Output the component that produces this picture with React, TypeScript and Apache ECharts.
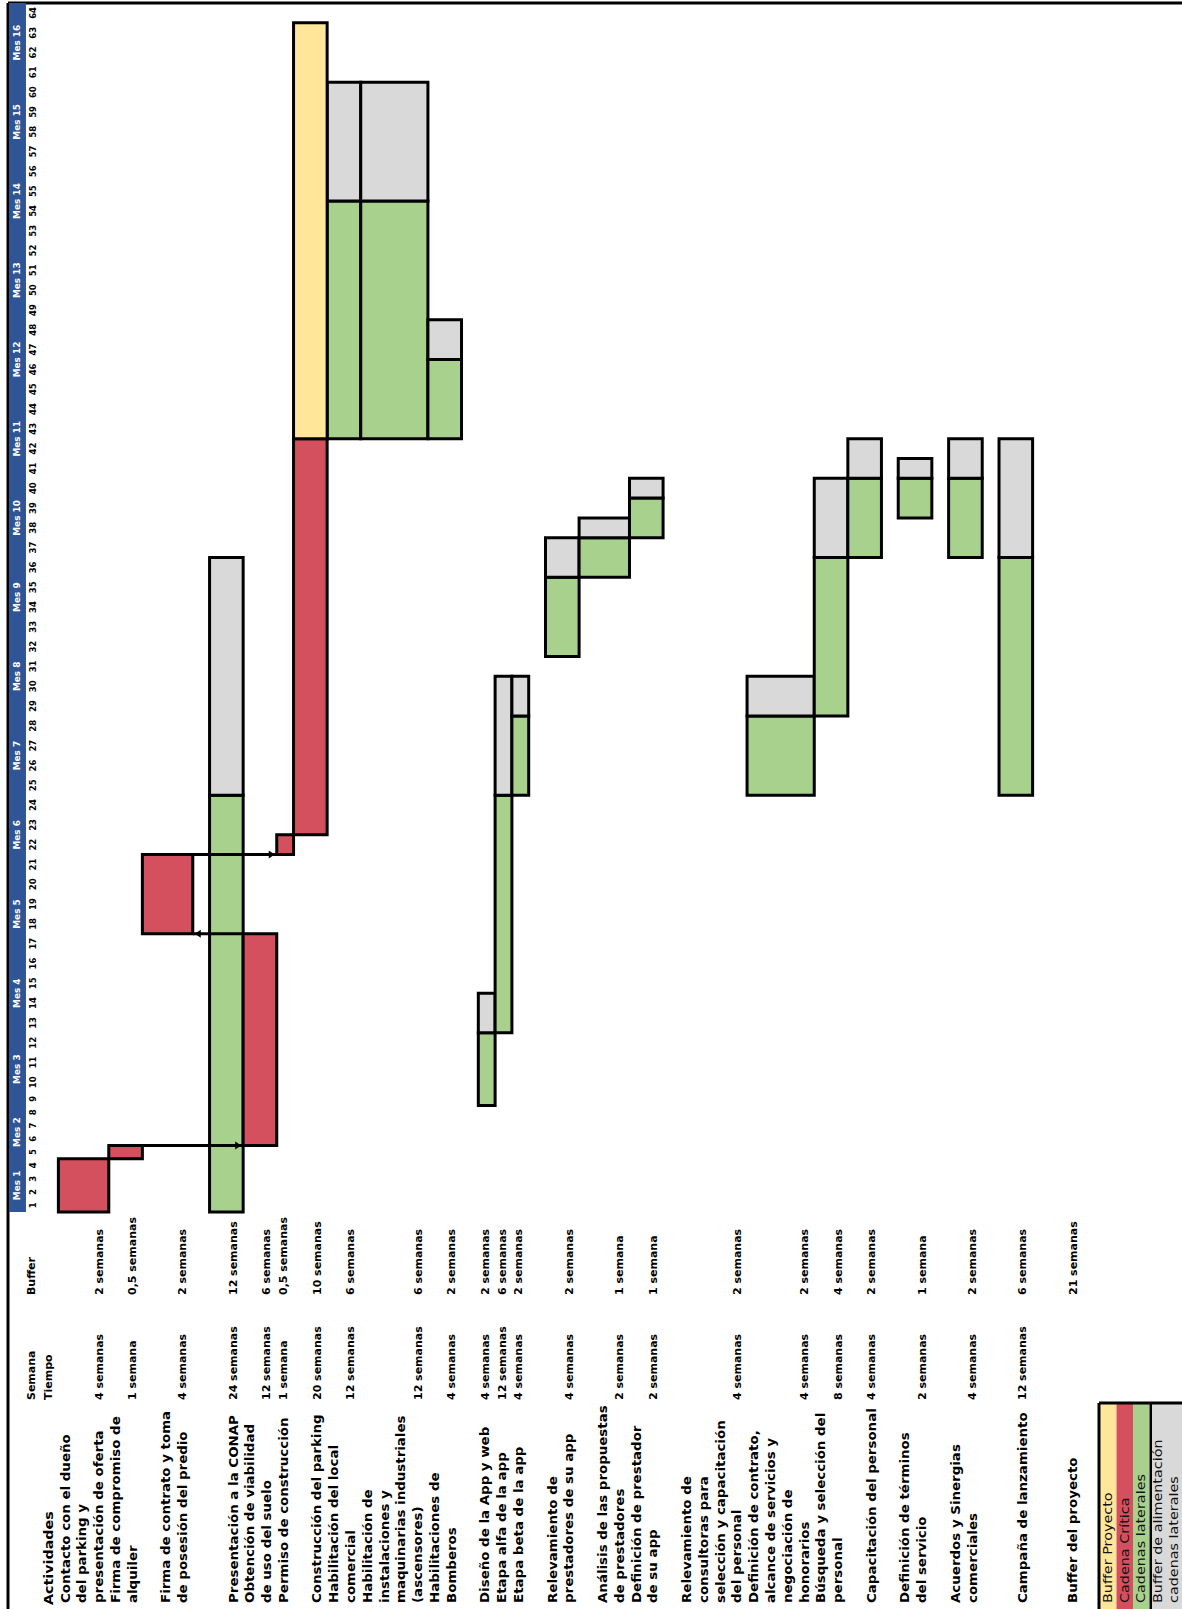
import React, { useEffect, useRef } from "react";
import * as echarts from "echarts";

// ---------- data ----------
const activities: string[] = [
  "Contacto con el dueño\ndel parking y\npresentación de oferta",
  "Firma de compromiso de\nalquiler",
  "Firma de contrato y toma\nde posesión del predio",
  "Presentación a la CONAP",
  "Obtención de viabilidad\nde uso del suelo",
  "Permiso de construcción",
  "Construcción del parking",
  "Habilitación del local\ncomercial",
  "Habilitación de\ninstalaciones y\nmaquinarias industriales\n(ascensores)",
  "Habilitaciones de\nBomberos",
  "Diseño de la App y web",
  "Etapa alfa de la app",
  "Etapa beta de la app",
  "Relevamiento de\nprestadores de su app",
  "Análisis de las propuestas\nde prestadores",
  "Definición de prestador\nde su app",
  "Relevamiento de\nconsultoras para\nselección y capacitación\ndel personal",
  "Definición de contrato,\nalcance de servicios y\nnegociación de\nhonorarios",
  "Búsqueda y selección del\npersonal",
  "Capacitación del personal",
  "Definición de términos\ndel servicio",
  "Acuerdos y Sinergias\ncomerciales",
  "Campaña de lanzamiento",
  "Buffer del proyecto",
];

// duration of each activity, in weeks
const durationWeeks: (number | null)[] = [4, 1, 4, 24, 12, 1, 20, 12, 12, 4, 4, 12, 4, 4, 2, 2, 4, 4, 8, 4, 2, 4, 12, null];
// buffer of each activity, in weeks
const bufferWeeks: number[] = [2, 0.5, 2, 12, 6, 0.5, 10, 6, 6, 2, 2, 6, 2, 2, 1, 1, 2, 2, 4, 2, 1, 2, 6, 21];
// week in which each activity starts (weeks elapsed since project start)
const startWeek: (number | null)[] = [0, 4, 17, 0, 5, 21, 22, 42, 42, 42, 8, 12, 24, 31, 35, 37, null, 24, 28, 36, 38, 36, 24, null];
// which chain each activity belongs to
const chainType: string[] = [
  "critica", "critica", "critica", "lateral", "critica", "critica", "critica",
  "lateral", "lateral", "lateral", "lateral", "lateral", "lateral", "lateral",
  "lateral", "lateral", "lateral", "lateral", "lateral", "lateral", "lateral",
  "lateral", "lateral", "proyecto",
];
// finish-to-start links along the critical chain [from, to]
const dependencies: [number, number][] = [[1, 4], [4, 2], [2, 5]];

const months: string[] = [
  "Mes 1", "Mes 2", "Mes 3", "Mes 4", "Mes 5", "Mes 6", "Mes 7", "Mes 8",
  "Mes 9", "Mes 10", "Mes 11", "Mes 12", "Mes 13", "Mes 14", "Mes 15", "Mes 16",
];
const weekTicks: number[] = [
  1, 2, 3, 4, 5, 6, 7, 8, 9, 10, 11, 12, 13, 14, 15, 16,
  17, 18, 19, 20, 21, 22, 23, 24, 25, 26, 27, 28, 29, 30, 31, 32,
  33, 34, 35, 36, 37, 38, 39, 40, 41, 42, 43, 44, 45, 46, 47, 48,
  49, 50, 51, 52, 53, 54, 55, 56, 57, 58, 59, 60, 61, 62, 63, 64,
];

const headerActivity = "Actividades";
const headerTime = ["Semana", "Tiempo"];
const headerBuffer = "Buffer";

const legendLabels: string[] = ["Buffer Proyecto", "Cadena Crítica", "Cadenas laterales", "Buffer de alimentación\ncadenas laterales"];
const legendKinds: string[] = ["proyecto", "critica", "lateral", "alimentacion"];

// ---------- layout ----------
// row thickness (in text lines) of every activity and blank lines placed before it
const rowLines = [3, 2, 3, 2, 2, 1, 2, 2, 4, 2, 1, 1, 1, 2, 3, 2, 4, 4, 2, 2, 2, 2, 2, 2];
const gapBefore = [0, 0, 0, 1, 0, 0, 0, 0, 0, 0, 1, 0, 0, 1, 0, 0, 1, 0, 0, 0, 1, 1, 1, 1];
const HEADER_LINES = 3; // month band, week numbers, header line
const NARROW_WEEK = 0.672; // columns holding one-digit week numbers are narrower

const COLORS: Record<string, string> = {
  critica: "#D5505E",
  lateral: "#A9D18E",
  alimentacion: "#D9D9D9",
  proyecto: "#FFE699",
};
const BAND_BLUE = "#2F5597";
const FONT = "DejaVu Sans";

const PAGE_W = 1182;
const PAGE_H = 1609;
const GRID = { left: 8, right: 99, top: 3, bottom: 397 };
const LABEL_BASE_Y = 1603;
const TIME_BASE_Y = 1400;
const BUFFER_BASE_Y = 1295;

// ---------- derived ----------
const rowStart: number[] = [];
const rowEnd: number[] = [];
{
  let cursor = 0;
  activities.forEach((_, i) => {
    cursor += gapBefore[i];
    rowStart[i] = cursor;
    cursor += rowLines[i];
    rowEnd[i] = cursor;
  });
}
const X_MIN = -HEADER_LINES;
const X_MAX = rowEnd[rowEnd.length - 1];

const weekWidth = (label: number) => (String(label).length === 1 ? NARROW_WEEK : 1);
function timePos(weeks: number): number {
  let p = 0;
  const whole = Math.floor(weeks);
  for (let k = 0; k < whole && k < weekTicks.length; k++) p += weekWidth(weekTicks[k]);
  const frac = weeks - whole;
  if (frac > 0 && whole < weekTicks.length) p += frac * weekWidth(weekTicks[whole]);
  return p;
}
const TIME_MAX = timePos(weekTicks.length);

const fmtWeeks = (n: number | null) =>
  n == null ? "" : n === 1 ? "1 semana" : `${String(n).replace(".", ",")} semanas`;

type Bar = { value: number[]; kind: string };
const bars: Bar[] = [];
activities.forEach((_, i) => {
  const s = startWeek[i];
  const d = durationWeeks[i];
  if (s == null || d == null) return;
  if (chainType[i] === "critica") {
    bars.push({ value: [rowStart[i], rowEnd[i], s, s + d], kind: "critica" });
  } else if (chainType[i] === "lateral") {
    bars.push({ value: [rowStart[i], rowEnd[i], s, s + d], kind: "lateral" });
    bars.push({ value: [rowStart[i], rowEnd[i], s + d, s + d + bufferWeeks[i]], kind: "alimentacion" });
  }
});
// the project buffer follows the last task of the critical chain, in its row
{
  let last = -1;
  let lastEnd = -Infinity;
  activities.forEach((_, i) => {
    if (chainType[i] !== "critica") return;
    const e = (startWeek[i] as number) + (durationWeeks[i] as number);
    if (e > lastEnd) { lastEnd = e; last = i; }
  });
  const pb = chainType.indexOf("proyecto");
  bars.push({ value: [rowStart[last], rowEnd[last], lastEnd, lastEnd + bufferWeeks[pb]], kind: "proyecto" });
}

function vText(x: number, y: number, text: string, size: number, opts: any = {}) {
  return {
    type: "text",
    x,
    y,
    rotation: Math.PI / 2,
    scaleX: opts.stretch ?? 1.1,
    style: {
      text,
      fill: opts.fill ?? "#000",
      fontFamily: FONT,
      fontSize: size,
      fontWeight: opts.weight ?? "bold",
      align: opts.align ?? "left",
      verticalAlign: "middle",
    },
  };
}

function buildOption(): any {
  const LINE_OFFSET = 0.6;
  const LABEL_STRETCH = 1.03;

  const timeAxisSeries = {
    type: "custom",
    silent: true,
    clip: false,
    z: 1,
    data: months.map((_, i) => [i, 0]),
    renderItem: (params: any, api: any) => {
      const m = params.dataIndex;
      const children: any[] = [];
      const bx0 = api.coord([X_MIN + 0.06, 0])[0];
      const bx1 = api.coord([X_MIN + 1.07, 0])[0];
      if (m === 0) {
        const top = api.coord([0, TIME_MAX])[1];
        const bottom = api.coord([0, 0])[1];
        children.push({ type: "rect", shape: { x: bx0, y: top, width: bx1 - bx0, height: bottom - top }, style: { fill: BAND_BLUE } });
      }
      const w0 = m * 4;
      const yA = api.coord([0, timePos(w0)])[1];
      const yB = api.coord([0, timePos(w0 + 4)])[1];
      children.push(vText((bx0 + bx1) / 2, (yA + yB) / 2, months[m], 8.5, { fill: "#fff", align: "center", stretch: 1.05 }));
      const wx = api.coord([X_MIN + 1.5, 0])[0];
      for (let k = 0; k < 4; k++) {
        const w = w0 + k;
        const c = api.coord([0, timePos(w + 0.5)])[1];
        children.push(vText(wx, c, String(weekTicks[w]), 8.5, { align: "center", stretch: 1.0 }));
      }
      return { type: "group", children };
    },
  };

  const barSeries = {
    type: "custom",
    silent: true,
    clip: false,
    z: 2,
    data: bars.map((b) => ({ value: b.value })),
    renderItem: (params: any, api: any) => {
      const b = bars[params.dataIndex];
      const p0 = api.coord([api.value(0), timePos(api.value(2))]);
      const p1 = api.coord([api.value(1), timePos(api.value(3))]);
      return {
        type: "rect",
        shape: { x: p0[0], y: p1[1], width: p1[0] - p0[0], height: p0[1] - p1[1] },
        style: { fill: COLORS[b.kind], stroke: "#000", lineWidth: 3 },
      };
    },
  };

  const linkSeries = {
    type: "custom",
    silent: true,
    clip: false,
    z: 3,
    data: dependencies.map((_, i) => [i, 0]),
    renderItem: (params: any, api: any) => {
      const [a, b] = dependencies[params.dataIndex];
      const week = (startWeek[a] as number) + (durationWeeks[a] as number);
      const forward = rowStart[b] >= rowEnd[a];
      const ua = forward ? rowEnd[a] : rowStart[a];
      const ub = forward ? rowStart[b] : rowEnd[b];
      const pA = api.coord([ua, timePos(week)]);
      const pB = api.coord([ub, timePos(week)]);
      const dir = forward ? 1 : -1;
      const tip = pB[0] - dir * 2;
      return {
        type: "group",
        children: [
          { type: "line", shape: { x1: pA[0], y1: pA[1], x2: pB[0], y2: pB[1] }, style: { stroke: "#000", lineWidth: 3 } },
          {
            type: "polygon",
            shape: { points: [[tip, pB[1]], [tip - dir * 6, pB[1] - 4], [tip - dir * 6, pB[1] + 4]] },
            style: { fill: "#000" },
          },
        ],
      };
    },
  };

  const tableSeries = {
    type: "custom",
    silent: true,
    clip: false,
    z: 4,
    data: [...activities.map((_, i) => [i, 0]), [activities.length, 0]],
    renderItem: (params: any, api: any) => {
      const i = params.dataIndex;
      const children: any[] = [];
      const xAt = (u: number) => api.coord([u, 0])[0];
      if (i === activities.length) {
        children.push(vText(xAt(-LINE_OFFSET), LABEL_BASE_Y + 2, headerActivity, 13, { stretch: 1.1 }));
        children.push(vText(xAt(-1 - LINE_OFFSET), TIME_BASE_Y, headerTime[0], 10));
        children.push(vText(xAt(-LINE_OFFSET), TIME_BASE_Y, headerTime[1], 10));
        children.push(vText(xAt(-1 - LINE_OFFSET), BUFFER_BASE_Y, headerBuffer, 10));
        return { type: "group", children };
      }
      const lines = activities[i].split("\n");
      lines.forEach((ln, k) => {
        const u = rowEnd[i] - LINE_OFFSET - (lines.length - 1 - k);
        children.push(vText(xAt(u), LABEL_BASE_Y, ln, 13, { stretch: LABEL_STRETCH }));
      });
      const uLast = rowEnd[i] - LINE_OFFSET;
      const t = fmtWeeks(durationWeeks[i]);
      if (t) children.push(vText(xAt(uLast), TIME_BASE_Y, t, 10));
      children.push(vText(xAt(uLast), BUFFER_BASE_Y, fmtWeeks(bufferWeeks[i]), 10));
      return { type: "group", children };
    },
  };

  // frame lines and legend block
  const graphic: any[] = [
    { type: "line", shape: { x1: GRID.left, y1: GRID.top, x2: PAGE_W, y2: GRID.top }, style: { stroke: "#000", lineWidth: 3 }, silent: true },
    { type: "line", shape: { x1: GRID.left, y1: GRID.top, x2: GRID.left, y2: PAGE_H }, style: { stroke: "#000", lineWidth: 3 }, silent: true },
  ];
  const LEG_X = 1100;
  const LEG_Y = 1404;
  const LINE_W = 16.5;
  let lx = LEG_X;
  legendLabels.forEach((label, i) => {
    const lines = label.split("\n");
    const w = lines.length * LINE_W;
    const lastCell = i === legendLabels.length - 1;
    if (lastCell) {
      graphic.push({ type: "rect", shape: { x: lx, y: LEG_Y, width: 2.5, height: PAGE_H - LEG_Y }, style: { fill: "#000" }, silent: true });
      lx += 2.5;
    }
    graphic.push({ type: "rect", shape: { x: lx, y: LEG_Y, width: lastCell ? PAGE_W - lx : w, height: PAGE_H - LEG_Y }, style: { fill: COLORS[legendKinds[i]] }, silent: true });
    lines.forEach((ln, k) => {
      graphic.push({
        type: "text",
        x: lx + LINE_W * (k + (lastCell ? 0.35 : 0.5)),
        y: LABEL_BASE_Y,
        rotation: Math.PI / 2,
        scaleX: 1.25,
        silent: true,
        style: { text: ln, fill: "#111", fontFamily: FONT, fontSize: 11.5, fontWeight: "normal", align: "left", verticalAlign: "middle" },
      });
    });
    lx += w;
  });
  graphic.push({ type: "line", shape: { x1: LEG_X - 1, y1: LEG_Y - 1, x2: PAGE_W, y2: LEG_Y - 1 }, style: { stroke: "#000", lineWidth: 3 }, silent: true });
  graphic.push({ type: "line", shape: { x1: LEG_X - 1, y1: LEG_Y - 1, x2: LEG_X - 1, y2: PAGE_H }, style: { stroke: "#000", lineWidth: 3 }, silent: true });

  return {
    animation: false,
    backgroundColor: "#fff",
    grid: { ...GRID, containLabel: false },
    xAxis: { type: "value", min: X_MIN, max: X_MAX, show: false },
    yAxis: { type: "value", min: 0, max: TIME_MAX, show: false },
    series: [timeAxisSeries, barSeries, linkSeries, tableSeries],
    graphic,
  };
}

export default function App() {
  const ref = useRef<HTMLDivElement>(null);
  useEffect(() => {
    if (!ref.current) return;
    const chart = echarts.init(ref.current, null, { renderer: "svg" });
    chart.setOption(buildOption());
    return () => chart.dispose();
  }, []);
  return (
    <div
      ref={ref}
      style={{ position: "absolute", left: 0, top: 0, width: PAGE_W, height: PAGE_H, background: "#fff" }}
    />
  );
}
